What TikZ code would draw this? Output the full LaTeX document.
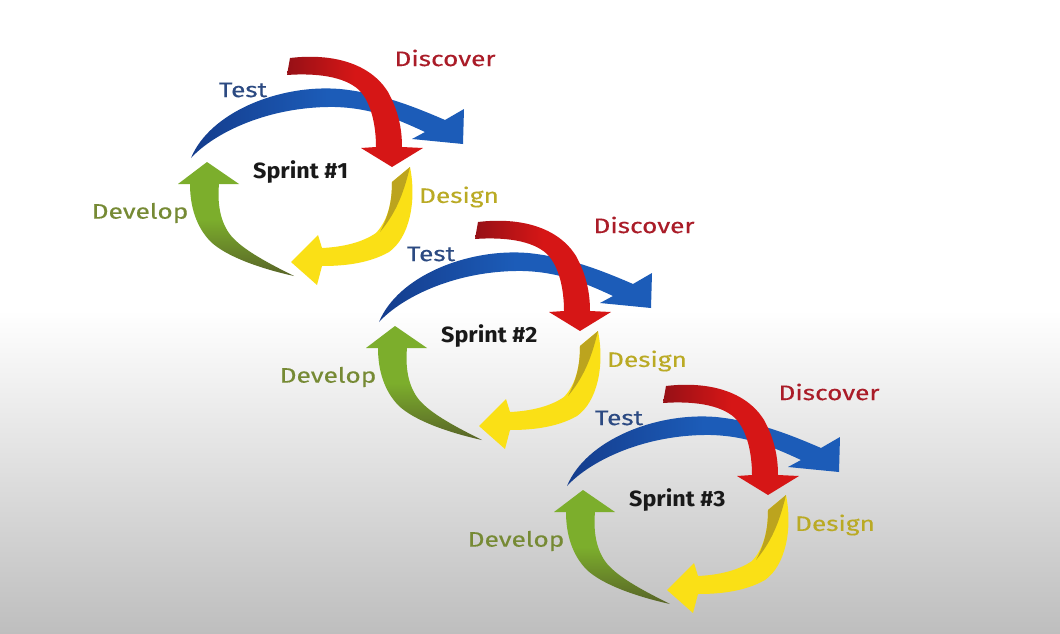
\documentclass[tikz,border=0pt]{standalone}
\usepackage{fontspec}
\setmainfont{Fira Sans}
\newfontfamily\lblfont[FakeStretch=1.25, FakeBold=0.3]{Fira Sans}
\newfontfamily\sprintfont[FakeStretch=1.06]{Fira Sans}

\definecolor{bgGray}{RGB}{190,190,190}
\definecolor{arrBlue}{RGB}{28,92,184}
\definecolor{arrBlueDark}{RGB}{20,60,140}
\definecolor{arrRed}{RGB}{214,22,22}
\definecolor{arrRedDark}{RGB}{150,16,22}
\definecolor{arrYellow}{RGB}{250,224,22}
\definecolor{arrOlive}{RGB}{178,154,32}
\definecolor{arrGreen}{RGB}{124,174,44}
\definecolor{arrGreenDark}{RGB}{88,100,40}
\definecolor{txtRed}{RGB}{170,28,40}
\definecolor{txtBlue}{RGB}{44,74,130}
\definecolor{txtYellow}{RGB}{186,170,36}
\definecolor{txtGreen}{RGB}{118,138,52}

\begin{document}
\begin{tikzpicture}[x=1pt,y=-1pt,
  lbl/.style={font=\lblfont\fontsize{21}{23}\selectfont, inner sep=0pt},
  sprintlbl/.style={font=\sprintfont\fontsize{22}{24}\selectfont\bfseries, inner sep=0pt, text=black!90, anchor=west}]
\useasboundingbox (0,0) rectangle (1060,634);
% page background: white top, grey gradient at the bottom
\fill[white] (0,0) rectangle (1060,311);
\shade[top color=white, bottom color=bgGray] (0,310) rectangle (1060,634);

\foreach \k/\dx/\dy in {0/0/0,1/11/3,2/8/6}{
  \pgfmathtruncatemacro\num{\k+1}
  \begin{scope}[shift={(188*\k,164*\k)}]
    % Develop: green arrow rising on the left
    \shade[top color=arrGreen, bottom color=arrGreenDark, middle color=arrGreen]
      (207,162) -- (239,184) -- (219,184)
      .. controls (217,206) and (221,226) .. (234,239)
      .. controls (247,252) and (270,264) .. (294,276)
      .. controls (262,269) and (227,257) .. (211,242)
      .. controls (196,227) and (190,206) .. (190,184)
      -- (178,184) -- cycle;
    % Design: yellow arrow sweeping down and left
    \fill[arrYellow]
      (410,167)
      .. controls (417,202) and (409,238) .. (389,252)
      .. controls (368,264) and (342,266) .. (322,266)
      -- (317,285) -- (291,262) -- (318,235) -- (322,248)
      .. controls (344,247) and (363,242) .. (376,233)
      .. controls (389,219) and (392,200) .. (392,182) -- cycle;
    \fill[arrOlive, opacity=0.85]
      (410,167) -- (392,182)
      .. controls (392,200) and (389,215) .. (380,232)
      .. controls (395,214) and (403,196) .. (410,167) -- cycle;
    % Test: blue arrow over the top
    \shade[left color=arrBlueDark, right color=arrBlue, middle color=arrBlue]
      (191,158)
      .. controls (210,112) and (280,84) .. (340,89)
      .. controls (380,93) and (415,107) .. (445,120)
      -- (464,109) -- (463,144) -- (412,139) -- (425,132)
      .. controls (395,118) and (370,108) .. (335,107)
      .. controls (270,106) and (215,132) .. (191,158) -- cycle;
    % Discover: red arrow dropping into the cycle
    \shade[left color=arrRedDark, right color=arrRed, middle color=arrRed]
      (290,58)
      .. controls (332,53) and (370,63) .. (388,92)
      .. controls (398,110) and (402,128) .. (402,147)
      -- (423,148) -- (392,167) -- (361,148) -- (376,147)
      .. controls (376,125) and (371,102) .. (359,90)
      .. controls (344,76) and (315,73) .. (287,75) -- cycle;
    % labels
    \node[lbl, text=txtRed]    (discover\k) at (445+\dx,58+\dy) {Discover};
    \node[lbl, text=txtBlue]   (test\k)     at (243,90)  {Test};
    \node[lbl, text=txtYellow] (design\k)   at (459,197) {Design};
    \node[lbl, text=txtGreen]  (develop\k)  at (140,213) {Develop};
    \node[sprintlbl]           (sprint\k)   at (253,172) {Sprint \#\num};
  \end{scope}
}
\end{tikzpicture}
\end{document}
